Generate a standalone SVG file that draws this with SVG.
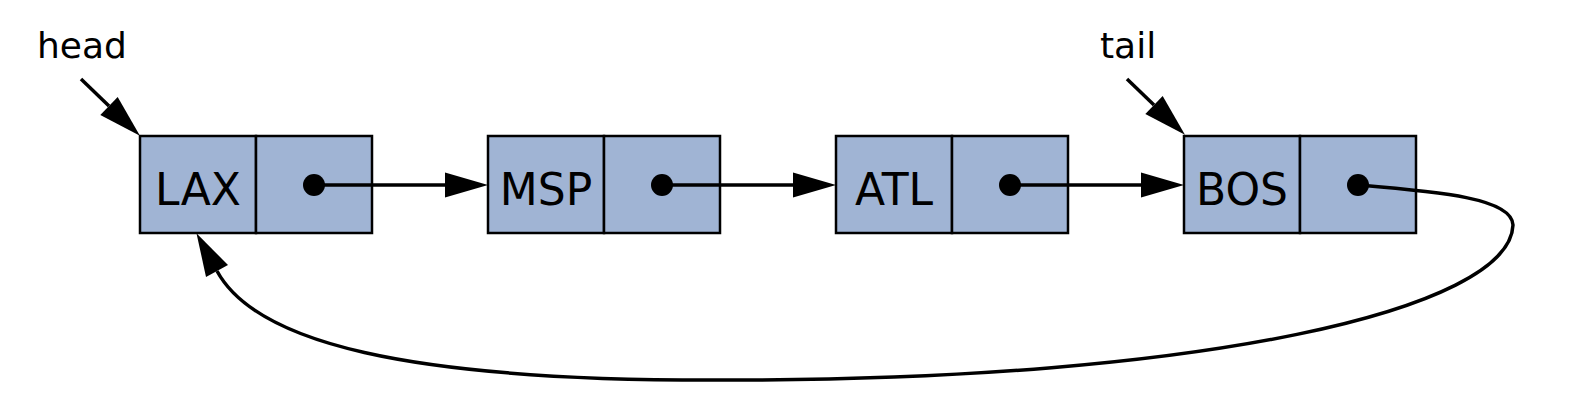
<svg xmlns="http://www.w3.org/2000/svg" width="1572" height="412" viewBox="0 0 1572 412">
  <style>
    .cell { fill: #a0b4d4; stroke: #000; stroke-width: 2.5; }
    .lbl { font-family: "DejaVu Sans", sans-serif; font-size: 44px; fill: #000; text-anchor: middle; }
    .ptr { font-family: "DejaVu Sans", sans-serif; font-size: 36px; fill: #000; }
    .edge { fill: none; stroke: #000; stroke-width: 3.5; marker-end: url(#arr); }
    .dot { fill: #000; }
  </style>
  <defs>
    <marker id="arr" markerUnits="userSpaceOnUse" markerWidth="44" markerHeight="26" refX="0" refY="12.5" orient="auto" viewBox="0 0 44 25" overflow="visible">
      <path d="M0,0 L43,12.5 L0,25 z" fill="#000"/>
    </marker>
  </defs>
  <rect width="1572" height="412" fill="#fff"/>

  <g id="node-lax">
    <rect class="cell" x="140" y="136" width="116" height="97"/>
    <rect class="cell" x="256" y="136" width="116" height="97"/>
    <text class="lbl" x="198" y="205">LAX</text>
    <circle class="dot" cx="314" cy="185" r="11"/>
  </g>
  <g id="node-msp">
    <rect class="cell" x="488" y="136" width="116" height="97"/>
    <rect class="cell" x="604" y="136" width="116" height="97"/>
    <text class="lbl" x="546" y="205">MSP</text>
    <circle class="dot" cx="662" cy="185" r="11"/>
  </g>
  <g id="node-atl">
    <rect class="cell" x="836" y="136" width="116" height="97"/>
    <rect class="cell" x="952" y="136" width="116" height="97"/>
    <text class="lbl" x="894" y="205">ATL</text>
    <circle class="dot" cx="1010" cy="185" r="11"/>
  </g>
  <g id="node-bos">
    <rect class="cell" x="1184" y="136" width="116" height="97"/>
    <rect class="cell" x="1300" y="136" width="116" height="97"/>
    <text class="lbl" x="1242" y="205">BOS</text>
    <circle class="dot" cx="1358" cy="185" r="11"/>
  </g>
  <g id="label-head">
    <text class="ptr" x="37" y="58">head</text>
  </g>
  <g id="label-tail">
    <text class="ptr" x="1100" y="58">tail</text>
  </g>

  <g id="connectors">
    <path class="edge" d="M314,185 L445,185"/>
    <path class="edge" d="M662,185 L793,185"/>
    <path class="edge" d="M1010,185 L1141,185"/>
    <path class="edge" d="M81,79 L109,106"/>
    <path class="edge" d="M1127,79 L1154,105"/>
    <path class="edge" d="M1358,185 C1440,192 1512,198 1513,225 C1510,310 1200,380 733,380 C400,382 255,341 217,271"/>
  </g>
</svg>
